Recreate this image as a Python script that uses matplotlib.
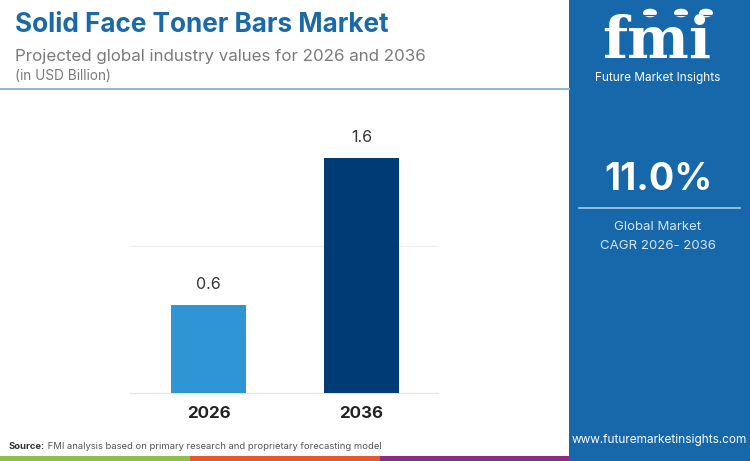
import matplotlib
matplotlib.use("Agg")
import matplotlib.pyplot as plt
from matplotlib.patches import Rectangle, Circle
from matplotlib.lines import Line2D

# ---- data ----
years = ["2026", "2036"]
values = [0.6, 1.6]
value_labels = ["0.6", "1.6"]
cagr_text = "11.0%"
cagr_caption = ["Global Market", "CAGR 2026- 2036"]
title = "Solid Face Toner Bars Market"
subtitle = "Projected global industry values for 2026 and 2036"
unit = "(in USD Billion)"
source_bold = "Source:"
source_rest = " FMI analysis based on primary research and proprietary forecasting model"
website = "www.futuremarketinsights.com"
brand = "Future Market Insights"

plt.rcParams['font.family'] = ['Inter', 'DejaVu Sans']

W, H = 750, 461
fig = plt.figure(figsize=(W / 100, H / 100), dpi=100)
fig.patch.set_facecolor("white")

def fx(px):
    return px / W

def fy(py):
    return 1 - py / H

panel_color = "#1668ab"
# right panel
fig.patches.append(Rectangle((fx(569), 0), fx(W - 569), 1, transform=fig.transFigure,
                             facecolor=panel_color, edgecolor="none", zorder=0))
# bottom color strip
for x0, x1, c in [(0, 190, "#8dc045"), (190, 380, "#e8592a"), (380, 569, "#8b2c86")]:
    fig.patches.append(Rectangle((fx(x0), 0), fx(x1 - x0), 5 / H, transform=fig.transFigure,
                                 facecolor=c, edgecolor="none", zorder=1))
# header separator line
fig.add_artist(Line2D([0, fx(569)], [fy(89), fy(89)], transform=fig.transFigure,
                      color="#8fb8d8", lw=1.5))

# titles
fig.text(fx(15), fy(25), title, fontsize=18.8, fontweight="bold", color="#1a6aa8",
         va="center", ha="left")
fig.text(fx(15), fy(56), subtitle, fontsize=12.2, color="#7a7a7a", va="center", ha="left")
fig.text(fx(15), fy(76), unit, fontsize=9.8, color="#7a7a7a", va="center", ha="left")

# source
t = fig.text(fx(9), fy(446), source_bold, fontsize=6.8, fontweight="bold", color="#333333",
             va="center", ha="left")
fig.canvas.draw()
bb = t.get_window_extent(renderer=fig.canvas.get_renderer())
fig.text(bb.x1 / W, fy(446), source_rest, fontsize=6.8, color="#555555", va="center", ha="left")

# right panel texts
fig.text(fx(659), fy(440), website, fontsize=8.5, color="white", va="center", ha="center")
fig.text(fx(658), fy(180), cagr_text, fontsize=27, fontweight="bold", color="white",
         va="center", ha="center")
fig.add_artist(Line2D([fx(579), fx(740)], [fy(208), fy(208)], transform=fig.transFigure,
                      color="#a9cbe6", lw=1.2))
fig.text(fx(658), fy(227), cagr_caption[0], fontsize=9.5, color="#d5e6f4", va="center", ha="center")
fig.text(fx(658), fy(246), cagr_caption[1], fontsize=9.5, color="#d5e6f4", va="center", ha="center")

# logo
fig.text(fx(657), fy(58), "fmi", fontsize=42, fontweight="bold", color="white",
         va="baseline", ha="center", family="DejaVu Serif")
for yy in range(15, 60, 4):
    fig.add_artist(Line2D([fx(594), fx(722)], [fy(yy), fy(yy)], transform=fig.transFigure,
                          color=panel_color, lw=0.9))
for cx in (650, 681, 706):
    fig.patches.append(Circle((fx(cx), fy(13)), 7 / W, transform=fig.transFigure,
                              facecolor="white", edgecolor="none"))
fig.text(fx(658), fy(72), brand, fontsize=8.5, color="white", va="top", ha="center")

# chart axes
base_px, top_px = 393, 121
ymax = 1.85
ax = fig.add_axes([fx(130), (H - base_px) / H, fx(308), (base_px - top_px) / H])
ax.set_facecolor("none")
x = [0, 1]
bars = ax.bar(x, values, width=0.49, color=["#2f95d5", "#003b76"], zorder=3)
ax.set_xlim(-0.513, 1.5)
ax.set_ylim(0, ymax)
ax.set_yticks([0, 1])
ax.yaxis.grid(True, color="#f5eeee", lw=1)
ax.set_axisbelow(True)
ax.tick_params(axis="y", left=False, labelleft=False)
ax.tick_params(axis="x", bottom=False, pad=6)
ax.set_xticks(x)
ax.set_xticklabels(years, fontsize=12.2, fontweight="bold", color="#222222")
for s in ["top", "right", "left"]:
    ax.spines[s].set_visible(False)
ax.spines["bottom"].set_color("#e4e4e4")
for xi, v, lab in zip(x, values, value_labels):
    ax.annotate(lab, (xi, v), xytext=(0, 9), textcoords="offset points",
                ha="center", va="bottom", fontsize=11.5, color="#333333")

fig.savefig("out.png", dpi=100)
